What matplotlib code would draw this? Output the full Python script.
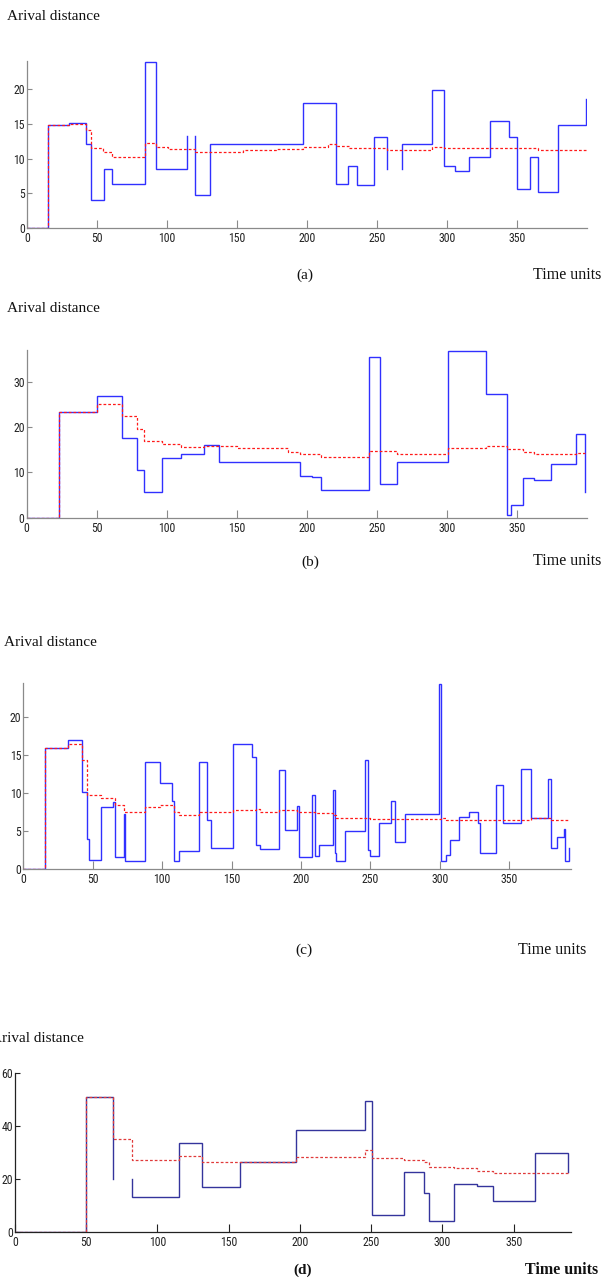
import numpy as np
import matplotlib
matplotlib.use("Agg")
import matplotlib.pyplot as plt
from matplotlib import font_manager as fm

# ---------------- data ----------------
a_blue_x = [0, 15, 30, 42, 46, 55, 61, 84, 92, 114, 120, 131, 197, 221, 229.5, 235.5, 248, 257, 268,
            289, 297.5, 305.5, 315.5, 331, 344, 350, 359, 365, 379, 399]
a_blue_y = [0, 14.9, 15.2, 12.1, 4.0, 8.5, 6.3, 24.0, 8.5, 13.3, 4.8, 12.1, 18.1, 6.3, 9.0, 6.2, 13.1, 8.5,
            12.1, 19.9, 8.9, 8.2, 10.2, 15.5, 13.1, 5.7, 10.2, 5.2, 14.9, 18.6]
a_blue_gaps = [9, 17]
a_red_x = [0, 15, 30, 42, 45.5, 54, 60.5, 84, 92, 100.5, 120, 154.5, 178, 197, 215, 221, 230, 235.5,
           257, 289, 297.5, 305.5, 365, 399]
a_red_y = [0, 14.8, 15.0, 14.1, 11.6, 11.0, 10.2, 12.3, 11.7, 11.4, 11.0, 11.3, 11.4, 11.7, 12.1, 11.8,
           11.6, 11.5, 11.3, 11.7, 11.5, 11.5, 11.2, 11.2]

b_blue_x = [0, 23, 50, 68, 78.6, 84, 96.6, 110, 126.6, 137.6, 195, 204, 210, 244.7, 252.4, 264.3, 300.7,
            328, 343, 345.7, 354.3, 362, 374.3, 392.4, 399]
b_blue_y = [0, 23.4, 26.9, 17.5, 10.6, 5.6, 13.1, 14.0, 16.0, 12.3, 9.3, 8.9, 6.1, 35.4, 7.35, 12.3, 36.8,
            27.4, 0.7, 2.9, 8.7, 8.3, 11.8, 18.5, 5.7]
b_red_x = [0, 23, 50, 68, 78.6, 84, 96.6, 110, 126.6, 150, 186.6, 195, 210, 244.7, 264.3, 300.7, 328,
           343, 354.3, 362, 392.4, 399]
b_red_y = [0, 23.4, 25.1, 22.5, 19.6, 17.0, 16.3, 15.7, 15.9, 15.3, 14.6, 14.0, 13.5, 14.8, 14.0, 15.3,
           15.8, 15.1, 14.4, 14.0, 14.2, 14.2]

c_blue_x = [0, 15.6, 32.2, 42, 45.9, 47.3, 56, 64.4, 65.8, 72.8, 73.6, 87.4, 98.7, 107.4, 108.6, 112.2,
            126.4, 132, 135, 151, 165, 167.6, 170.5, 184, 188.8, 197, 198.4, 207.8, 210, 213, 222.9,
            224.6, 225.5, 231.8, 246, 248.6, 249.8, 256, 264.7, 267.8, 275.2, 299.3, 300.7, 304.3,
            307.4, 314.1, 321.3, 327.6, 329, 340.3, 345.8, 358.6, 365.8, 377.8, 380, 384.3, 389.6,
            390.5, 393.4]
c_blue_y = [0, 15.9, 17.0, 10.1, 3.9, 1.2, 8.2, 8.8, 1.6, 7.2, 1.05, 14.05, 11.3, 9.0, 1.05, 2.4,
            14.05, 6.5, 2.75, 16.4, 14.7, 3.1, 2.6, 13.0, 5.1, 8.25, 1.6, 9.7, 1.7, 3.2, 10.4, 2.05,
            1.05, 5.0, 14.4, 2.5, 1.75, 6.0, 8.95, 3.5, 7.2, 24.3, 1.05, 1.8, 3.8, 6.9, 7.5, 6.0,
            2.05, 11.0, 6.0, 13.2, 6.7, 11.9, 2.7, 4.2, 5.3, 1.05, 2.7]
c_red_x = [0, 15.6, 32.2, 42, 45.9, 56, 65.8, 72.8, 87.4, 98.7, 108.6, 112.2, 126.4, 151, 167.6, 170.5,
           184, 197, 210, 222.9, 225.5, 249.8, 300.7, 304.3, 365.8, 380, 393.4]
c_red_y = [0, 15.9, 16.5, 14.4, 9.7, 9.4, 8.4, 7.5, 8.1, 8.4, 7.5, 7.1, 7.5, 7.7, 7.9, 7.5, 7.7, 7.5,
           7.3, 7.1, 6.7, 6.6, 6.7, 6.5, 6.7, 6.5, 6.5]

d_blue_x = [0, 50, 69, 82.3, 114.9, 131.2, 157.9, 197.2, 245.6, 250.8, 273.2, 287.2, 290.5, 308.1,
            324, 335.7, 365, 387.9]
d_blue_y = [0, 51, 20, 13.3, 33.6, 17.0, 26.5, 38.6, 49.5, 6.4, 22.7, 14.5, 4.0, 17.9, 17.2, 11.6,
            30.0, 22.7]
d_blue_gaps = [2]
d_red_x = [0, 50, 69, 82.3, 114.9, 131.2, 197.2, 245.6, 250.8, 273.2, 287.2, 290.5, 308.1, 324, 335.7,
           387.9]
d_red_y = [0, 51, 35.1, 27.1, 28.7, 26.5, 28.2, 30.8, 28.0, 27.3, 26.3, 24.6, 24.0, 23.1, 22.1, 22.1]

x_ticks = [0, 50, 100, 150, 200, 250, 300, 350]
a_yticks = [0, 5, 10, 15, 20]
b_yticks = [0, 10, 20, 30]
c_yticks = [0, 5, 10, 15, 20]
d_yticks = [0, 20, 40, 60]
panel_labels = ["(a)", "(b)", "(c)", "(d)"]
ylabel_text = "Arival distance"
xlabel_text = "Time units"


def step_path(xs, ys, gaps=()):
    px, py = [xs[0]], [ys[0]]
    for i in range(len(xs) - 1):
        if i in gaps:
            px += [np.nan, xs[i + 1]]
            py += [np.nan, ys[i]]
        else:
            px.append(xs[i + 1])
            py.append(ys[i])
        px.append(xs[i + 1])
        py.append(ys[i + 1])
    return px, py


W, H = 606, 1280
fig = plt.figure(figsize=(W / 100, H / 100), dpi=100)
fig.patch.set_facecolor("white")

installed = {f.name for f in fm.fontManager.ttflist}
narrow = [n for n in ["Liberation Sans Narrow", "DejaVu Sans Condensed", "Roboto Condensed",
                      "Open Sans Condensed"] if n in installed]
tick_font = narrow + ["Liberation Sans", "DejaVu Sans"]
tick_size = 8.5 if narrow else 7.5
serif = ["Liberation Serif", "DejaVu Serif"]


def px_axes(x0, x1, ybot, ytop):
    return fig.add_axes([x0 / W, 1 - ybot / H, (x1 - x0) / W, (ybot - ytop) / H])


panels = [
    dict(rect=(27, 587, 228, 61), xlim=400, ylim=24.1, yt=a_yticks,
         blue=(a_blue_x, a_blue_y, a_blue_gaps), red=(a_red_x, a_red_y),
         spine="#8a8a8a", bcol="#3030ff", rcol="#ff1a1a",
         ylab=(7, 17), plab=(305, 275), tlab=(533, 275), bold=False),
    dict(rect=(26.7, 586.7, 517.7, 350), xlim=400, ylim=37, yt=b_yticks,
         blue=(b_blue_x, b_blue_y, []), red=(b_red_x, b_red_y),
         spine="#8a8a8a", bcol="#3030ff", rcol="#ff1a1a",
         ylab=(7, 309), plab=(310, 562), tlab=(533, 561), bold=False),
    dict(rect=(23.3, 570.7, 869, 682.7), xlim=394.3, ylim=24.5, yt=c_yticks,
         blue=(c_blue_x, c_blue_y, []), red=(c_red_x, c_red_y),
         spine="#8a8a8a", bcol="#3030ff", rcol="#ff1a1a",
         ylab=(4, 642), plab=(304, 950), tlab=(518, 950), bold=False),
    dict(rect=(15, 570.7, 1231.7, 1073.3), xlim=390, ylim=60, yt=d_yticks,
         blue=(d_blue_x, d_blue_y, d_blue_gaps), red=(d_red_x, d_red_y),
         spine="#222222", bcol="#34349c", rcol="#e03a3a",
         ylab=(-9, 1038), plab=(303, 1270), tlab=(525, 1270), bold=True),
]

for p, lab in zip(panels, panel_labels):
    ax = px_axes(*p["rect"])
    bx, by, gaps = p["blue"]
    X, Y = step_path(bx, by, gaps)
    ax.plot(X, Y, color=p["bcol"], lw=1.0, solid_joinstyle="miter", zorder=2)
    rx, ry = p["red"]
    X, Y = step_path(rx, ry)
    ax.plot(X, Y, color=p["rcol"], lw=0.9, linestyle=(0, (2.2, 1.6)), zorder=3)
    ax.set_xlim(0, p["xlim"])
    ax.set_ylim(0, p["ylim"])
    ax.set_xticks(x_ticks)
    ax.set_yticks(p["yt"])
    for s in ["top", "right"]:
        ax.spines[s].set_visible(False)
    for s in ["left", "bottom"]:
        ax.spines[s].set_color(p["spine"])
        ax.spines[s].set_linewidth(0.9)
    ax.tick_params(axis="x", direction="in", length=6, width=0.8, color=p["spine"],
                   labelsize=tick_size, labelcolor="#222222", pad=3)
    ax.tick_params(axis="y", direction="in", length=3.5, width=0.8, color=p["spine"],
                   labelsize=tick_size, labelcolor="#222222", pad=1.5)
    for t in ax.get_xticklabels() + ax.get_yticklabels():
        t.set_family(tick_font)
    ax.patch.set_alpha(0)
    fig.text(p["ylab"][0] / W, 1 - p["ylab"][1] / H, ylabel_text, family=serif,
             fontsize=11, ha="left", va="center", color="#111111")
    fig.text(p["plab"][0] / W, 1 - p["plab"][1] / H, lab, family=serif,
             fontsize=11, ha="center", va="center", color="#111111",
             fontweight="bold" if p["bold"] else "normal")
    fig.text(p["tlab"][0] / W, 1 - p["tlab"][1] / H, xlabel_text, family=serif,
             fontsize=11.5, ha="left", va="center", color="#111111",
             fontweight="bold" if p["bold"] else "normal")

fig.savefig("out.png", dpi=100, facecolor="white")
